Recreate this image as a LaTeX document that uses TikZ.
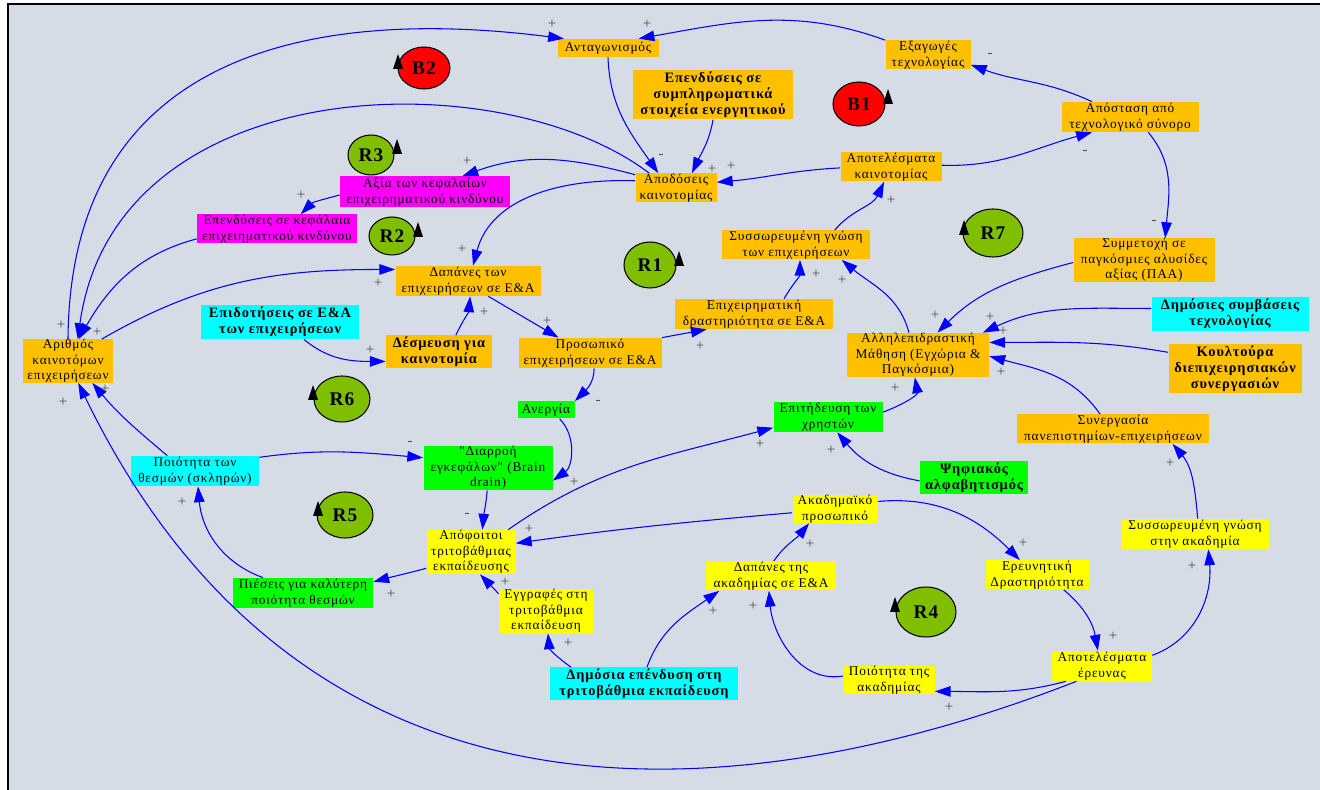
\documentclass[tikz,border=0pt]{standalone}
\usepackage{fontspec}
\setmainfont{Liberation Serif}[LetterSpace=6, Ligatures=TeXOff]
\usetikzlibrary{arrows.meta,shapes.geometric}
\definecolor{bgc}{RGB}{213,220,229}
\definecolor{cor}{RGB}{255,192,0}
\definecolor{cma}{RGB}{255,0,255}
\definecolor{ccy}{RGB}{0,255,255}
\definecolor{cgr}{RGB}{0,255,0}
\definecolor{cye}{RGB}{255,255,0}
\definecolor{lgr}{RGB}{128,190,0}
\definecolor{lrd}{RGB}{255,0,0}
\definecolor{polc}{RGB}{80,80,80}
\newcommand\bx[7]{\node[#6, minimum width=#4*0.02cm, minimum height=#5*0.02cm] (#1) at (#2,-#3) {#7};}
\newcommand\lp[9]{\node[#6, minimum width=#4*0.04cm, minimum height=#5*0.04cm] (#1) at (#2,-#3) {#7};
  \fill[black] (#8-5,-#9-7) -- (#8+5,-#9-7) -- (#8,-#9+8) -- cycle;}
\newcommand\pl[4]{\node[pol] (#1) at (#2,-#3) {#4};}
\tikzset{
  box/.style={rectangle, inner sep=0pt, align=center, text=black, font=\fontsize{7.6}{8.8}\selectfont},
  bbox/.style={box, font=\bfseries\fontsize{8.2}{9.2}\selectfont},
  or/.style={box, fill=cor}, orb/.style={bbox, fill=cor},
  ma/.style={box, fill=cma},
  cy/.style={box, fill=ccy}, cyb/.style={bbox, fill=ccy},
  gr/.style={box, fill=cgr}, grb/.style={bbox, fill=cgr},
  ye/.style={box, fill=cye},
  loopg/.style={ellipse, draw=black, line width=0.6pt, fill=lgr, inner sep=0pt, font=\bfseries\fontsize{11}{12}\selectfont},
  loopr/.style={loopg, fill=lrd},
  cl/.style={draw=blue, line width=0.6pt, -{Triangle[length=9pt,width=6pt]}},
  pol/.style={inner sep=0pt, text=polc, font=\fontsize{8.5}{9}\selectfont}
}
\begin{document}
\begin{tikzpicture}[x=0.02cm,y=0.02cm]
\useasboundingbox (0,0) rectangle (1320,-790);
\clip (0,0) rectangle (1320,-790);
\fill[white] (0,0) rectangle (1320,-790);
\fill[bgc] (8,-4) rectangle (1330,-800);
\draw[line width=1.5pt] (8,-800) -- (8,-4) -- (1330,-4);

% loops
\lp{B2}{424}{68}{26}{21}{loopr}{B2}{398}{62}
\lp{B1}{859}{104}{26}{22}{loopr}{B1}{888}{97}
\lp{R3}{371}{155}{23}{20}{loopg}{R3}{397}{147}
\lp{R2}{392}{236}{23}{19}{loopg}{R2}{418}{230}
\lp{R1}{650}{265}{26}{23}{loopg}{R1}{679}{259}
\lp{R7}{993}{233}{30}{24}{loopg}{R7}{964}{228}
\lp{R6}{342}{399}{28}{23}{loopg}{R6}{313}{393}
\lp{R5}{345}{515}{28}{23}{loopg}{R5}{318}{509}
\lp{R4}{926}{612}{30}{25}{loopg}{R4}{895}{605}

% nodes
\bx{ant}{608}{48}{101}{18}{or}{Ανταγωνισμός}
\bx{epsym}{713}{95}{160}{49}{orb}{Επενδύσεις σε\\συμπληρωματικά\\στοιχεία ενεργητικού}
\bx{apod}{676}{188}{81}{29}{or}{Αποδόσεις\\καινοτομίας}
\bx{apotk}{891}{167}{101}{29}{or}{Αποτελέσματα\\καινοτομίας}
\bx{exag}{928}{55}{85}{29}{or}{Εξαγωγές\\τεχνολογίας}
\bx{apost}{1130}{117}{137}{30}{or}{Απόσταση από\\τεχνολογικό σύνορο}
\bx{symm}{1144}{260}{141}{43}{or}{Συμμετοχή σε\\παγκόσμιες αλυσίδες\\αξίας (ΠΑΑ)}
\bx{axia}{425}{192}{170}{31}{ma}{Αξία των κεφαλαίων\\επιχειρηματικού κινδύνου}
\bx{epkef}{277}{229}{160}{29}{ma}{Επενδύσεις σε κεφάλαια\\επιχειηματικού κινδύνου}
\bx{ssg}{796}{245}{148}{29}{or}{Συσσωρευμένη γνώση\\των επιχειρήσεων}
\bx{epdr}{754}{314}{158}{30}{or}{Επιχειρηματική\\δραστηριότητα σε Ε\&Α}
\bx{dap}{468}{281}{145}{30}{or}{Δαπάνες των\\επιχειρήσεων σε Ε\&Α}
\bx{epid}{280}{322}{158}{34}{cyb}{Επιδοτήσεις σε Ε\&Α\\των επιχειρήσεων}
\bx{desm}{439}{352}{106}{33}{orb}{Δέσμευση για\\καινοτομία}
\bx{arith}{68}{361}{90}{43}{or}{Αριθμός\\καινοτόμων\\επιχειρήσεων}
\bx{pros}{590}{353}{143}{30}{or}{Προσωπικό\\επιχειρήσεων σε Ε\&Α}
\bx{aner}{546}{410}{57}{17}{gr}{Ανεργία}
\bx{brain}{488}{468}{129}{44}{gr}{"Διαρροή\\εγκεφάλων" (Brain\\drain)}
\bx{poiot}{195}{471}{128}{30}{cy}{Ποιότητα των\\θεσμών (σκληρών)}
\bx{pies}{303}{593}{140}{30}{gr}{Πιέσεις για καλύτερη\\ποιότητα θεσμών}
\bx{epit}{828}{417}{109}{30}{gr}{Επιτήδευση των\\χρηστών}
\bx{allil}{918}{355}{142}{44}{or}{Αλληλεπιδραστική\\Μάθηση (Εγχώρια \&\\Παγκόσμια)}
\bx{dimsym}{1230}{314}{157}{34}{cyb}{Δημόσιες συμβάσεις\\τεχνολογίας}
\bx{koul}{1235}{369}{133}{49}{orb}{Κουλτούρα\\διεπιχειρησιακών\\συνεργασιών}
\bx{synerg}{1113}{429}{192}{29}{or}{Συνεργασία\\πανεπιστημίων-επιχειρήσεων}
\bx{psif}{974}{478}{108}{33}{grb}{Ψηφιακός\\αλφαβητισμός}
\bx{ssgak}{1195}{534}{148}{30}{ye}{Συσσωρευμένη γνώση\\στην ακαδημία}
\bx{akpr}{835}{509}{85}{28}{ye}{Ακαδημαϊκό\\προσωπικό}
\bx{apof}{471}{552}{89}{44}{ye}{Απόφοιτοι\\τριτοβάθμιας\\εκπαίδευσης}
\bx{eggr}{546}{611}{94}{44}{ye}{Εγγραφές στη\\τριτοβάθμια\\εκπαίδευση}
\bx{dapak}{771}{576}{130}{29}{ye}{Δαπάνες της\\ακαδημίας σε Ε\&Α}
\bx{dimep}{644}{684}{188}{33}{cyb}{Δημόσια επένδυση στη\\τριτοβάθμια εκπαίδευση}
\bx{poiak}{889}{680}{91}{28}{ye}{Ποιότητα της\\ακαδημίας}
\bx{erevn}{1037}{575}{103}{29}{ye}{Ερευνητική\\Δραστηριότητα}
\bx{apoter}{1102}{666}{100}{30}{ye}{Αποτελέσματα\\έρευνας}

% connectors
\draw[cl] (arith.north) .. controls (70,-60) and (300,-5) .. (ant.168);
\draw[cl] (apod.151) .. controls (500,-60) and (115,-70) .. (arith.66);
\draw[cl] (epkef.187) to[out=195,in=60] (arith.64);
\draw[cl] (arith.33) to[out=30,in=180] (dap.171);
\draw[cl] (ant.south) to[out=-88,in=125] (apod.140);
\draw[cl] (epsym.south) to[out=-100,in=65] (apod.43);
\draw[cl] (apotk.181) to[out=183,in=5] (apod.8);
\draw[cl] (apod.162) to[out=165,in=20] (axia.23);
\draw[cl] (apod.170) to[out=178,in=75] (dap.72);
\draw[cl] (axia.182) to[out=195,in=45] (epkef.32);
\draw[cl] (exag.north west) to[out=160,in=10] (ant.17);
\draw[cl] (apotk.2) to[out=-2,in=195] (apost.202);
\draw[cl] (apost.158) to[out=155,in=340] (exag.347);
\draw[cl] (apost.320) to[out=-50,in=85] (symm.46);
\draw[cl] (symm.182) to[out=195,in=45] (allil.49);
\draw[cl] (dimsym.176) to[out=180,in=25] (allil.19);
\draw[cl] (koul.166) to[out=170,in=0] (allil.10);
\draw[cl] (synerg.131) to[out=125,in=345] (allil.359);
\draw[cl] (ssgak.80) to[out=95,in=310] (synerg.346);
\draw[cl] (apoter.12) to[out=20,in=275] (ssgak.311);
\draw[cl] (erevn.331) to[out=-40,in=100] (apoter.105);
\draw[cl] (akpr.10) to[out=5,in=135] (erevn.139);
\draw[cl] (apoter.203) to[out=195,in=0] (poiak.346);
\draw[cl] (apoter.211) .. controls (720,-820) and (300,-840) .. (arith.295);
\draw[cl] (poiot.151) to[out=140,in=310] (arith.318);
\draw[cl] (poiot.12) to[out=8,in=175] (brain.171);
\draw[cl] (pies.159) to[out=160,in=275] (poiot.281);
\draw[cl] (apof.200) to[out=195,in=15] (pies.9);
\draw[cl] (brain.268) to[out=265,in=85] (apof.63);
\draw[cl] (aner.327) to[out=315,in=35] (brain.349);
\draw[cl] (pros.285) to[out=270,in=45] (aner.north east);
\draw[cl] (dap.323) -- (pros.154);
\draw[cl] (desm.45) to[out=65,in=265] (dap.278);
\draw[cl] (epid.324) to[out=320,in=180] (desm.190);
\draw[cl] (pros.north east) -- (epdr.198);
\draw[cl] (epdr.27) to[out=60,in=270] (ssg.285);
\draw[cl] (allil.112) to[out=105,in=320] (ssg.342);
\draw[cl] (ssg.21) to[out=50,in=245] (apotk.245);
\draw[cl] (epit.5) to[out=20,in=280] (allil.262);
\draw[cl] (psif.183) to[out=170,in=310] (epit.301);
\draw[cl] (apof.31) to[out=35,in=195] (epit.191);
\draw[cl] (akpr.185) to[out=185,in=8] (apof.11);
\draw[cl] (eggr.160) -- (apof.292);
\draw[cl] (dimep.167) to[out=145,in=275] (eggr.275);
\draw[cl] (dimep.80) to[out=70,in=215] (dapak.196);
\draw[cl] (poiak.175) to[out=190,in=275] (dapak.262);
\draw[cl] (dapak.80) to[out=55,in=230] (akpr.209);

% polarities
\pl{p1}{552}{24}{+}
\pl{p2}{647}{24}{+}
\pl{p3}{661}{156}{-}
\pl{p4}{712}{169}{+}
\pl{p5}{731}{166}{+}
\pl{p6}{467}{161}{+}
\pl{p7}{462}{249}{+}
\pl{p8}{301}{195}{+}
\pl{p9}{990}{55}{-}
\pl{p10}{1085}{152}{-}
\pl{p11}{1154}{222}{-}
\pl{p12}{891}{200}{+}
\pl{p13}{935}{315}{+}
\pl{p14}{990}{317}{+}
\pl{p15}{1003}{331}{+}
\pl{p16}{1001}{372}{+}
\pl{p17}{1170}{463}{+}
\pl{p18}{1192}{566}{+}
\pl{p19}{1113}{636}{+}
\pl{p20}{1023}{543}{+}
\pl{p21}{949}{707}{+}
\pl{p22}{63}{402}{+}
\pl{p23}{105}{389}{+}
\pl{p24}{410}{443}{-}
\pl{p25}{182}{502}{+}
\pl{p26}{391}{594}{+}
\pl{p27}{467}{515}{-}
\pl{p28}{574}{482}{+}
\pl{p29}{598}{402}{-}
\pl{p30}{547}{321}{+}
\pl{p31}{484}{312}{+}
\pl{p32}{370}{350}{+}
\pl{p33}{700}{346}{+}
\pl{p34}{816}{274}{+}
\pl{p35}{842}{280}{+}
\pl{p36}{895}{388}{+}
\pl{p37}{831}{450}{+}
\pl{p38}{760}{444}{+}
\pl{p39}{529}{529}{+}
\pl{p40}{505}{582}{+}
\pl{p41}{568}{643}{+}
\pl{p42}{713}{611}{+}
\pl{p43}{753}{606}{+}
\pl{p44}{810}{544}{+}
\pl{p45}{61}{325}{+}
\pl{p46}{97}{332}{+}
\pl{p47}{378}{283}{+}
\end{tikzpicture}
\end{document}
